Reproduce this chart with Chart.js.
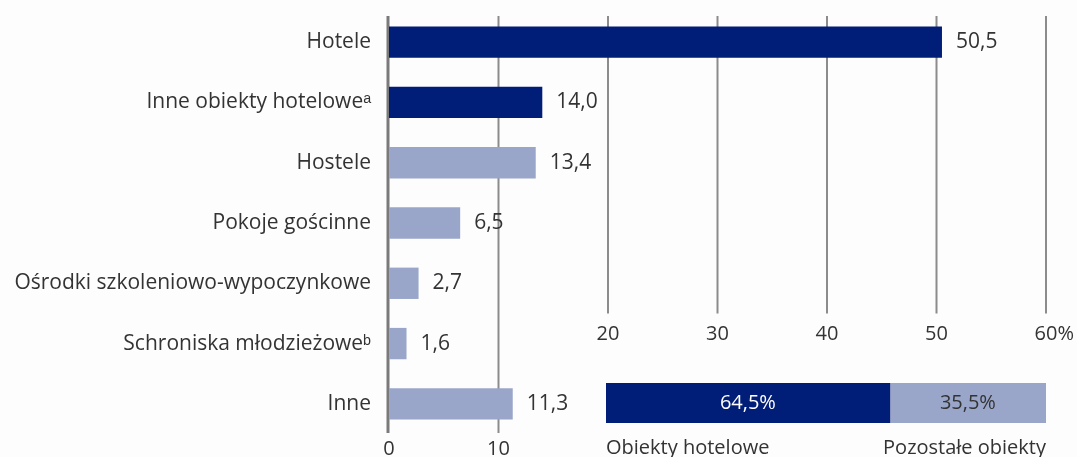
<!DOCTYPE html>
<html>
<head>
<meta charset="utf-8">
<script src="https://cdn.jsdelivr.net/npm/chart.js@4/dist/chart.umd.min.js"></script>
<style>
  html, body { margin: 0; padding: 0; background: #fdfdfd; }
  #wrap { position: relative; width: 1077px; height: 457px; overflow: hidden; }
  #main { position: absolute; left: 0; top: 0; }
  #share { position: absolute; left: 606px; top: 383px; }
</style>
</head>
<body>
<div id="wrap">
  <canvas id="main" width="1077" height="457"></canvas>
  <canvas id="share" width="440" height="80"></canvas>
</div>
<script>
// data
const categories = ["Hotele", "Inne obiekty hotelowe", "Hostele", "Pokoje gościnne",
  "Ośrodki szkoleniowo-wypoczynkowe", "Schroniska młodzieżowe", "Inne"];
const footnotes = ["", "ᵃ", "", "", "", "ᵇ", ""];
const values = [50.5, 14.0, 13.4, 6.5, 2.7, 1.6, 11.3];
const groups = ["hotel", "hotel", "other", "other", "other", "other", "other"];
const xTicks = [0, 10, 20, 30, 40, 50, 60];

const shareLabels = ["Obiekty hotelowe", "Pozostałe obiekty"];
const shareValues = [64.5, 35.5];

const DARK = "#001d77";
const LIGHT = "#99a6ca";
const TEXT = "#333333";
const FONT = "'Open Sans', sans-serif";

const fmt = (v) => v.toFixed(1).replace(".", ",");

// gridlines + tick labels, split into a short and a long part
const gridPlugin = {
  id: "grid",
  beforeDatasetsDraw(chart) {
    const { ctx, chartArea, scales: { x, y } } = chart;
    const midY = (y.getPixelForValue(4) + y.getPixelForValue(5)) / 2;
    ctx.save();
    ctx.font = "20px " + FONT;
    ctx.fillStyle = TEXT;
    ctx.textBaseline = "middle";
    xTicks.forEach((v) => {
      const px = x.getPixelForValue(v);
      const low = v <= 10;
      const bottom = low ? chartArea.bottom - 1 : midY;
      ctx.beginPath();
      ctx.strokeStyle = v === 0 ? "#7a7a7a" : "#8c8c8c";
      ctx.lineWidth = v === 0 ? 3 : 2;
      ctx.moveTo(v === 0 ? px - 1 : px, chartArea.top + 4);
      ctx.lineTo(v === 0 ? px - 1 : px, bottom);
      ctx.stroke();
      const ly = low ? chartArea.bottom + 15 : midY + 21;
      const num = String(v);
      const w = ctx.measureText(num).width;
      ctx.textAlign = "left";
      ctx.fillText(num + (v === 60 ? "%" : ""), px - w / 2, ly);
    });
    ctx.restore();
  },
  afterDatasetsDraw(chart) {
    const { ctx } = chart;
    const meta = chart.getDatasetMeta(0);
    ctx.save();
    ctx.font = "21px " + FONT;
    ctx.fillStyle = TEXT;
    ctx.textAlign = "left";
    ctx.textBaseline = "middle";
    meta.data.forEach((bar, i) => {
      ctx.fillText(fmt(values[i]), bar.x + 14, bar.y);
    });
    ctx.restore();
  }
};

new Chart(document.getElementById("main"), {
  type: "bar",
  data: {
    labels: categories.map((c, i) => c + footnotes[i]),
    datasets: [{
      data: values,
      backgroundColor: groups.map((g) => (g === "hotel" ? DARK : LIGHT)),
      barPercentage: 0.52,
      categoryPercentage: 1.0
    }]
  },
  options: {
    indexAxis: "y",
    responsive: false,
    animation: false,
    layout: { padding: { top: 12, right: 31, bottom: 23, left: 0 } },
    plugins: { legend: { display: false }, tooltip: { enabled: false } },
    scales: {
      x: { min: 0, max: 60, display: false },
      y: {
        grid: { display: false, drawTicks: false },
        border: { display: false },
        ticks: { color: TEXT, font: { family: FONT, size: 21 }, padding: 18 },
        afterFit(scale) {
          scale.width = 389;
          scale.paddingTop = 0;
          scale.paddingBottom = 0;
        }
      }
    }
  },
  plugins: [gridPlugin]
});

// share of hotel vs other establishments
const sharePlugin = {
  id: "shareLabels",
  afterDatasetsDraw(chart) {
    const { ctx, chartArea } = chart;
    ctx.save();
    ctx.font = "20px " + FONT;
    ctx.textBaseline = "middle";
    chart.data.datasets.forEach((ds, i) => {
      const bar = chart.getDatasetMeta(i).data[0];
      ctx.fillStyle = i === 0 ? "#ffffff" : TEXT;
      ctx.textAlign = "center";
      ctx.fillText(fmt(shareValues[i]) + "%", (bar.x + bar.base) / 2, bar.y);
    });
    ctx.fillStyle = TEXT;
    ctx.textAlign = "left";
    ctx.fillText(shareLabels[0], chartArea.left, chartArea.bottom + 25);
    ctx.textAlign = "right";
    ctx.fillText(shareLabels[1], chartArea.right, chartArea.bottom + 25);
    ctx.restore();
  }
};

new Chart(document.getElementById("share"), {
  type: "bar",
  data: {
    labels: [""],
    datasets: [
      { label: shareLabels[0], data: [shareValues[0]], backgroundColor: DARK },
      { label: shareLabels[1], data: [shareValues[1]], backgroundColor: LIGHT }
    ]
  },
  options: {
    indexAxis: "y",
    responsive: false,
    animation: false,
    datasets: { bar: { barPercentage: 1, categoryPercentage: 1 } },
    layout: { padding: { top: 0, right: 0, bottom: 40, left: 0 } },
    plugins: { legend: { display: false }, tooltip: { enabled: false } },
    scales: {
      x: { stacked: true, min: 0, max: 100, display: false },
      y: { stacked: true, display: false }
    }
  },
  plugins: [sharePlugin]
});
</script>
</body>
</html>
